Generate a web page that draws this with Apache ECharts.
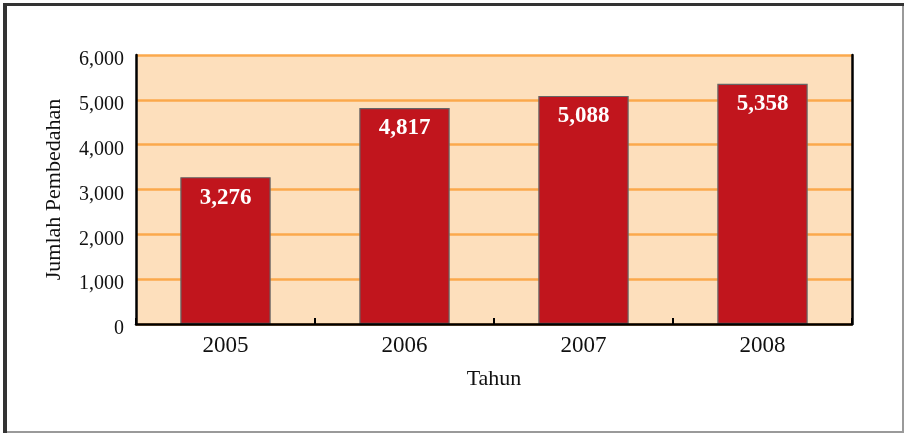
<!DOCTYPE html>
<html>
<head>
<meta charset="utf-8">
<script src="https://cdn.jsdelivr.net/npm/echarts@6/dist/echarts.min.js"></script>
<style>
  html, body { margin: 0; padding: 0; background: #ffffff; }
  #chart { width: 904px; height: 433px; }
</style>
</head>
<body>
<div id="chart"></div>
<script>
// Jumlah pembedahan per tahun
const years = ['2005', '2006', '2007', '2008'];
const operations = [3276, 4817, 5088, 5358];
const yTicks = { min: 0, max: 6000, interval: 1000 };

const serif = '"Liberation Serif", "Times New Roman", serif';
const chart = echarts.init(document.getElementById('chart'), null, { renderer: 'canvas' });

chart.setOption({
  animation: false,
  backgroundColor: '#ffffff',
  textStyle: { fontFamily: serif },
  grid: {
    left: 136, right: 52, top: 55, bottom: 109,
    show: true, backgroundColor: '#fddfbc', borderWidth: 0
  },
  // frame around the figure: dark on top/left, light grey on right/bottom
  graphic: [
    { type: 'rect', shape: { x: 3, y: 3, width: 4, height: 430 }, style: { fill: '#333333' }, silent: true },
    { type: 'rect', shape: { x: 3, y: 3, width: 901, height: 3 }, style: { fill: '#333333' }, silent: true },
    { type: 'rect', shape: { x: 902, y: 6, width: 2, height: 427 }, style: { fill: '#9a9a9a' }, silent: true },
    { type: 'rect', shape: { x: 7, y: 431, width: 897, height: 2 }, style: { fill: '#9a9a9a' }, silent: true }
  ],
  xAxis: {
    type: 'category',
    data: years,
    name: 'Tahun',
    nameLocation: 'middle',
    nameGap: 44,
    nameTextStyle: { fontFamily: serif, fontSize: 22, color: '#111' },
    axisLine: { lineStyle: { color: '#000', width: 2.5 } },
    axisTick: { show: true, inside: true, length: 6, lineStyle: { color: '#000', width: 2 } },
    axisLabel: { fontFamily: serif, fontSize: 23, color: '#111', margin: 10 },
    z: 5
  },
  yAxis: [
    {
      type: 'value',
      min: yTicks.min, max: yTicks.max, interval: yTicks.interval,
      name: 'Jumlah Pembedahan',
      nameLocation: 'middle',
      nameGap: 71,
      nameRotate: 90,
      nameTextStyle: { fontFamily: serif, fontSize: 22, color: '#111' },
      axisLine: { show: true, lineStyle: { color: '#000', width: 2.5 } },
      axisTick: { show: false },
      axisLabel: {
        fontFamily: serif, fontSize: 20, color: '#111', margin: 12,
        verticalAlign: 'top', lineHeight: 10,
        formatter: v => v.toLocaleString('en-US')
      },
      splitLine: { show: true, lineStyle: { color: '#fba94c', width: 2.5 } }
    },
    {
      type: 'value',
      position: 'right',
      min: yTicks.min, max: yTicks.max, interval: yTicks.interval,
      axisLine: { show: true, lineStyle: { color: '#000', width: 2.5 } },
      axisTick: { show: false },
      axisLabel: { show: false },
      splitLine: { show: false }
    }
  ],
  series: [{
    type: 'bar',
    data: operations,
    barWidth: '50.5%',
    itemStyle: { color: '#c1151d', borderColor: '#666666', borderWidth: 1.2 },
    label: {
      show: true,
      position: 'insideTop',
      distance: 9,
      color: '#ffffff',
      fontFamily: serif,
      fontWeight: 'bold',
      fontSize: 23,
      formatter: p => p.value.toLocaleString('en-US')
    }
  }]
});
</script>
</body>
</html>
